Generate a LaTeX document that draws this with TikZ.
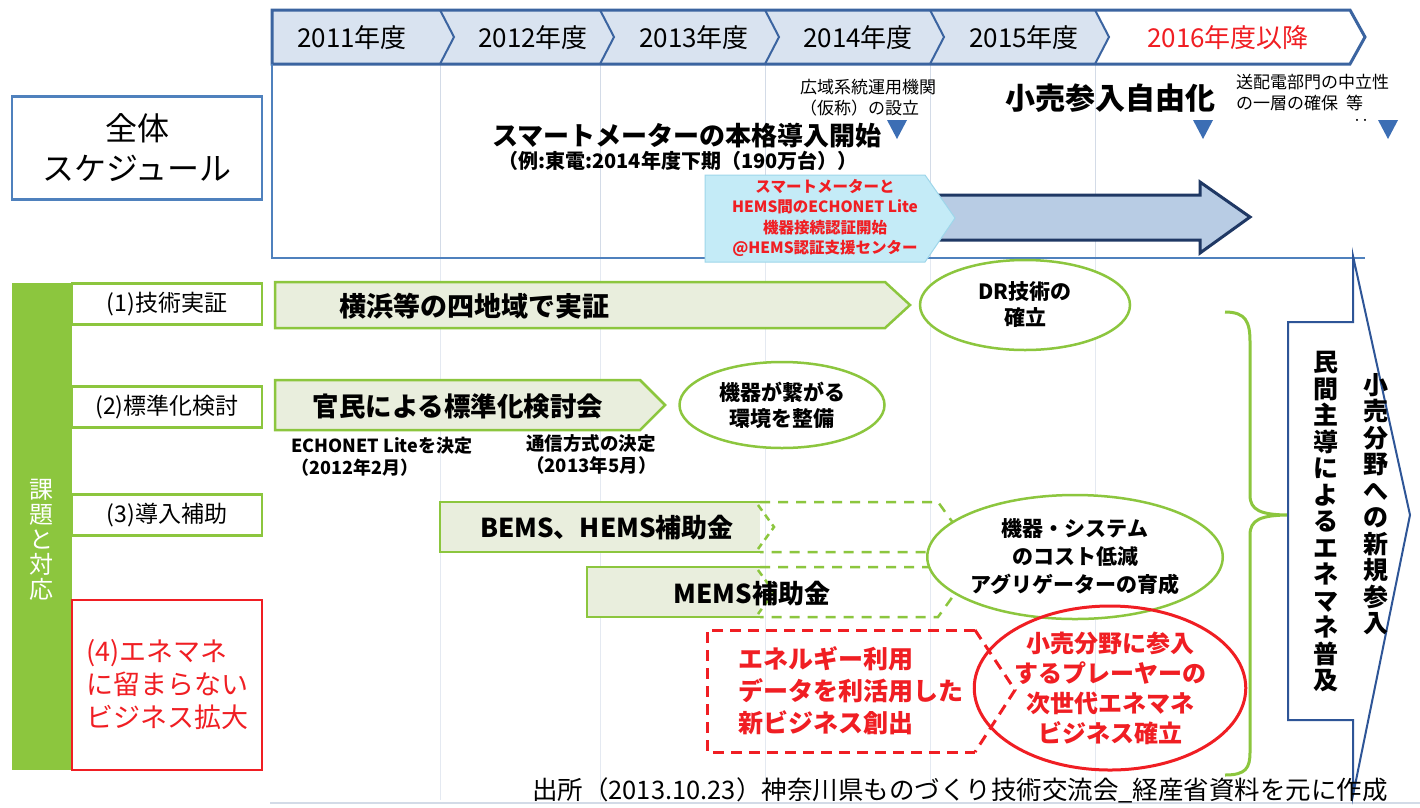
\documentclass[tikz,border=0pt]{standalone}
\usepackage{fontspec}
\setmainfont{Noto Sans CJK JP}
\usetikzlibrary{shapes.geometric}
\definecolor{hdrblue}{HTML}{3B64A0}
\definecolor{hdrfill}{HTML}{D9E3F0}
\definecolor{frameblue}{HTML}{4F81BD}
\definecolor{gridc}{HTML}{D3DBE7}
\definecolor{grn}{HTML}{8CC63E}
\definecolor{grnfill}{HTML}{E9EEDD}
\definecolor{redc}{HTML}{F01E23}
\definecolor{navy}{HTML}{1F3864}
\definecolor{arrfill}{HTML}{B8CCE4}
\definecolor{cyanfill}{HTML}{C4EBF7}
\definecolor{cyanline}{HTML}{9ED6EA}
\definecolor{tri}{HTML}{3C6EB4}
\definecolor{pentblue}{HTML}{2E5597}
\newcommand\fsz[2]{\fontsize{#1}{#2}\selectfont}
\tikzset{
  yearlbl/.style={font=\fsz{26}{30}, text=black, inner sep=0pt},
  lblbox/.style={draw=grn, line width=2.5pt, fill=white, minimum width=190pt, minimum height=41pt, font=\fsz{23}{27}, inner sep=0pt},
  gshape/.style={draw=grn, line width=2.5pt, fill=grnfill},
  gdash/.style={draw=grn, line width=2.5pt, dash pattern=on 10pt off 8pt},
  gell/.style={ellipse, draw=grn, line width=2.5pt, fill=white, inner sep=0pt, align=center, font=\bfseries\fsz{21}{26}},
  boldtxt/.style={font=\bfseries, inner sep=0pt},
  tritip/.style={fill=tri},
  vcol/.style={font=\bfseries\fsz{25}{26.5}, align=center, inner sep=0pt},
}
\begin{document}
\begin{tikzpicture}[x=1pt,y=-1pt]
\useasboundingbox (0,0) rectangle (1420,807);
\fill[white] (0,0) rectangle (1420,807);

% faint grid lines
\foreach \gx in {440,600,765,930,1095}{
  \draw[gridc, line width=1pt] (\gx,64) -- (\gx,258);
  \draw[gridc!60, line width=1pt] (\gx,258) -- (\gx,800);
}
\draw[gridc, line width=1.5pt] (270,803) -- (1420,803);

% header band
\fill[hdrfill] (272,10) -- (1095,10) -- (1109,37) -- (1095,64) -- (272,64) -- cycle;
\foreach \cx in {440,600,765,930,1095}{
  \draw[hdrblue, line width=2pt] (\cx,10) -- (\cx+14,37) -- (\cx,64);
}
\draw[hdrblue, line width=3pt, line join=miter] (272,10) -- (1350,10) -- (1365,37) -- (1350,64) -- (272,64) -- cycle;
\node[yearlbl] (y11) at (352,38) {2011年度};
\node[yearlbl] (y12) at (533,38) {2012年度};
\node[yearlbl] (y13) at (694,38) {2013年度};
\node[yearlbl] (y14) at (858,38) {2014年度};
\node[yearlbl] (y15) at (1024,38) {2015年度};
\node[yearlbl, text=redc] (y16) at (1228,38) {2016年度以降};

% schedule frame
\draw[frameblue, line width=2pt] (272,64) -- (272,258) -- (1365,258);

% overall schedule box
\node[draw=frameblue, line width=2.5pt, minimum width=250pt, minimum height=103pt, align=center, font=\fsz{32}{40}, inner sep=0pt] (zentai) at (137,148) {全体\\スケジュール};

% schedule texts
\node[anchor=west, align=left, font=\fsz{17}{21}, inner sep=0pt] (kouiki) at (800,98) {広域系統運用機関\\（仮称）の設立};
\node[boldtxt, font=\bfseries\fsz{30}{34}] (kouri) at (1110,98) {小売参入自由化};
\node[anchor=west, align=left, font=\fsz{17}{21}, inner sep=0pt] (souhai) at (1236,93) {送配電部門の中立性\\の一層の確保\hspace{8pt}等};
\node[font=\fsz{16}{16}, inner sep=0pt] (dots) at (1361,123) {‥};
\fill[tritip] (887,120) -- (907,120) -- (897,139) -- cycle;
\fill[tritip] (1193,120) -- (1213,120) -- (1203,139) -- cycle;
\fill[tritip] (1378,120) -- (1398,120) -- (1388,139) -- cycle;
\node[boldtxt, font=\bfseries\fsz{26}{30}] (smart) at (687,136) {スマートメーターの本格導入開始};
\node[boldtxt, font=\bfseries\fsz{20}{24}] (rei) at (678,161) {（例:東電:2014年度下期（190万台））};

% big arrow
\draw[navy, line width=3pt, fill=arrfill, line join=miter] (930,195) -- (1200,195) -- (1200,182) -- (1250,217) -- (1200,253) -- (1200,240) -- (930,240) -- cycle;
% cyan pentagon
\draw[cyanline, line width=1pt, fill=cyanfill] (705,175) -- (925,175) -- (955,218) -- (925,262) -- (705,262) -- cycle;
\node[align=center, text=redc, font=\bfseries\fsz{15.5}{20.5}, inner sep=0pt] (cyantxt) at (825,218) {スマートメーターと\\HEMS間のECHONET Lite\\機器接続認証開始\\@HEMS認証支援センター};

% green band and labels
\fill[grn] (12,283) rectangle (72,770);
\node[align=center, text=white, font=\fsz{24}{25}, inner sep=0pt] (kadai) at (41,540) {課\\題\\と\\対\\応};
\node[lblbox] (l1) at (167,304) {(1)技術実証};
\node[lblbox] (l2) at (167,407) {(2)標準化検討};
\node[lblbox] (l3) at (167,515) {(3)導入補助};
\node[draw=redc, line width=2pt, fill=white, minimum width=190pt, minimum height=170pt, align=left, text=redc, font=\fsz{27}{33}, inner sep=0pt] (l4) at (167,685) {(4)エネマネ\\に留まらない\\ビジネス拡大};

% row 1
\draw[gshape] (275,282) -- (885,282) -- (910,305) -- (885,328) -- (275,328) -- cycle;
\node[boldtxt, font=\bfseries\fsz{27}{30}] (yoko) at (474,306) {横浜等の四地域で実証};
\node[gell, minimum width=210pt, minimum height=90pt] (dr) at (1025,305) {DR技術の\\確立};

% row 2
\draw[gshape] (275,380) -- (640,380) -- (665,405) -- (640,430) -- (275,430) -- cycle;
\node[boldtxt, font=\bfseries\fsz{26.5}{30}] (kanmin) at (458,406) {官民による標準化検討会};
\node[gell, minimum width=205pt, minimum height=86pt] (kiki) at (782,405) {機器が繋がる\\環境を整備};
\node[anchor=west, align=left, font=\bfseries\fsz{18}{22}, inner sep=0pt] (echo) at (291,457) {ECHONET Liteを決定\\（2012年2月）};
\node[anchor=west, align=left, font=\bfseries\fsz{18.5}{22}, inner sep=0pt] (tsushin) at (526,454) {通信方式の決定\\（2013年5月）};

% row 3
\fill[grnfill] (440,502) rectangle (760,552);
\draw[grn, line width=2.5pt] (760,502) -- (440,502) -- (440,552) -- (760,552);
\draw[gdash] (760,502) -- (938,502) -- (956,527) -- (938,552) -- (760,552);
\draw[gdash, dash pattern=on 7pt off 5pt] (758,505) -- (774,527) -- (758,549);
\node[boldtxt, font=\bfseries\fsz{26}{30}] (bems) at (607,528) {BEMS、HEMS補助金};
\fill[grnfill] (587,567) rectangle (760,617);
\draw[grn, line width=2.5pt] (760,567) -- (587,567) -- (587,617) -- (760,617);
\draw[gdash] (760,567) -- (938,567) -- (956,592) -- (938,617) -- (760,617);
\draw[gdash, dash pattern=on 7pt off 5pt] (758,570) -- (774,592) -- (758,614);
\node[boldtxt, font=\bfseries\fsz{26}{30}] (mems) at (752,594) {MEMS補助金};
\node[gell, minimum width=240pt, minimum height=124pt, font=\bfseries\fsz{21}{28}] (cost) at (1075,557) {機器・システム\\のコスト低減\\アグリゲーターの育成};

% row 4
\draw[redc, line width=3pt, dash pattern=on 11pt off 7pt] (975,630) -- (707,630) -- (707,752) -- (975,752);
\draw[redc, line width=3pt, dash pattern=on 11pt off 7pt] (975,630) -- (1015,690) -- (975,752);
\node[anchor=west, align=left, text=redc, font=\bfseries\fsz{25}{32}, inner sep=0pt] (ene) at (738,691) {エネルギー利用\\データを利活用した\\新ビジネス創出};
\node[ellipse, draw=redc, line width=3pt, minimum width=252pt, minimum height=164pt, align=center, text=redc, font=\bfseries\fsz{24}{30}, inner sep=0pt] (kouri2) at (1110,688) {小売分野に参入\\するプレーヤーの\\次世代エネマネ\\ビジネス確立};

% brace
\coordinate (bt) at (1225,312);
\coordinate (bm) at (1290,515);
\coordinate (bb) at (1225,775);
\draw[grn, line width=3pt] (bt) .. controls (1246,312) and (1250,322) .. (1250,342) -- (1250,495) .. controls (1250,510) and (1260,515) .. (bm) .. controls (1260,515) and (1250,520) .. (1250,535) -- (1250,752) .. controls (1250,768) and (1246,775) .. (bb);

% vertical pentagon
\draw[pentblue, line width=2pt, fill=white, line join=miter] (1288,322) -- (1353,322) -- (1353,256) -- (1410,515) -- (1353,795) -- (1353,720) -- (1288,720) -- cycle;
\node[vcol] (vr) at (1376,504) {小\\売\\分\\野\\へ\\の\\新\\規\\参\\入};
\node[vcol] (vl) at (1326,522) {民\\間\\主\\導\\に\\よ\\る\\エ\\ネ\\マ\\ネ\\普\\及};

% source
\node[font=\fsz{25.5}{28}, inner sep=0pt] (src) at (960,790) {出所（2013.10.23）神奈川県ものづくり技術交流会\_経産省資料を元に作成};
\end{tikzpicture}
\end{document}
